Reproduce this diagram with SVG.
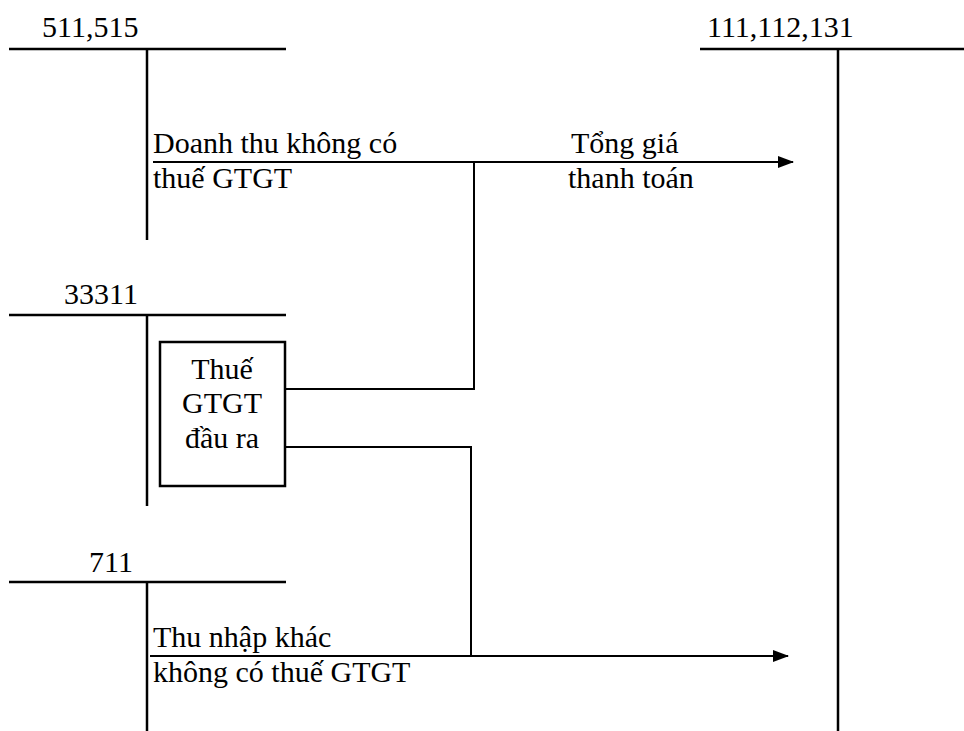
<svg xmlns="http://www.w3.org/2000/svg" width="964" height="731" viewBox="0 0 964 731">
<style>
text{font-family:'Liberation Serif','Times New Roman',Tinos,'DejaVu Serif',serif;font-size:30px;fill:#000}
.ln{stroke:#000;stroke-width:2.5;fill:none}
.c{stroke:#000;stroke-width:2;fill:none}
</style>
<defs>
<marker id="ah" markerWidth="16" markerHeight="12" refX="15" refY="6" orient="auto" markerUnits="userSpaceOnUse">
<path d="M0,0 L16,6 L0,12 z" fill="#000"/>
</marker>
</defs>
<rect width="964" height="731" fill="#fff"/>
<g id="acc511" font-family="Liberation Serif, serif">
<line class="ln" x1="9" y1="49" x2="286" y2="49"/>
<line class="ln" x1="147" y1="49" x2="147" y2="240"/>
<text x="42" y="37">511,515</text>
</g>
<g id="acc111">
<line class="ln" x1="700" y1="49" x2="964" y2="49"/>
<line class="ln" x1="838" y1="49" x2="838" y2="731"/>
<text x="707" y="37">111,112,131</text>
</g>
<g id="acc33311">
<line class="ln" x1="9" y1="315" x2="286" y2="315"/>
<line class="ln" x1="147" y1="315" x2="147" y2="506"/>
<text x="64" y="304">33311</text>
</g>
<g id="box">
<rect x="160" y="342" width="125" height="144" class="ln"/>
<text x="222" y="379" text-anchor="middle">Thuế</text>
<text x="222" y="413" text-anchor="middle">GTGT</text>
<text x="222" y="448" text-anchor="middle">đầu ra</text>
</g>
<g id="acc711">
<line class="ln" x1="9" y1="582" x2="286" y2="582"/>
<line class="ln" x1="147" y1="582" x2="147" y2="731"/>
<text x="89" y="572">711</text>
</g>
<g id="connectors">
<line class="c" x1="153" y1="162" x2="793" y2="162" marker-end="url(#ah)"/>
<polyline class="c" points="286,389 474,389 474,162"/>
<polyline class="c" points="286,447 471,447 471,656"/>
<line class="c" x1="150" y1="656" x2="788" y2="656" marker-end="url(#ah)"/>
</g>
<g id="labels">
<text x="153" y="153">Doanh thu không có</text>
<text x="153" y="188">thuế GTGT</text>
<text x="571" y="153">Tổng giá</text>
<text x="568" y="188">thanh toán</text>
<text x="153" y="647">Thu nhập khác</text>
<text x="153" y="682">không có thuế GTGT</text>
</g>
</svg>
